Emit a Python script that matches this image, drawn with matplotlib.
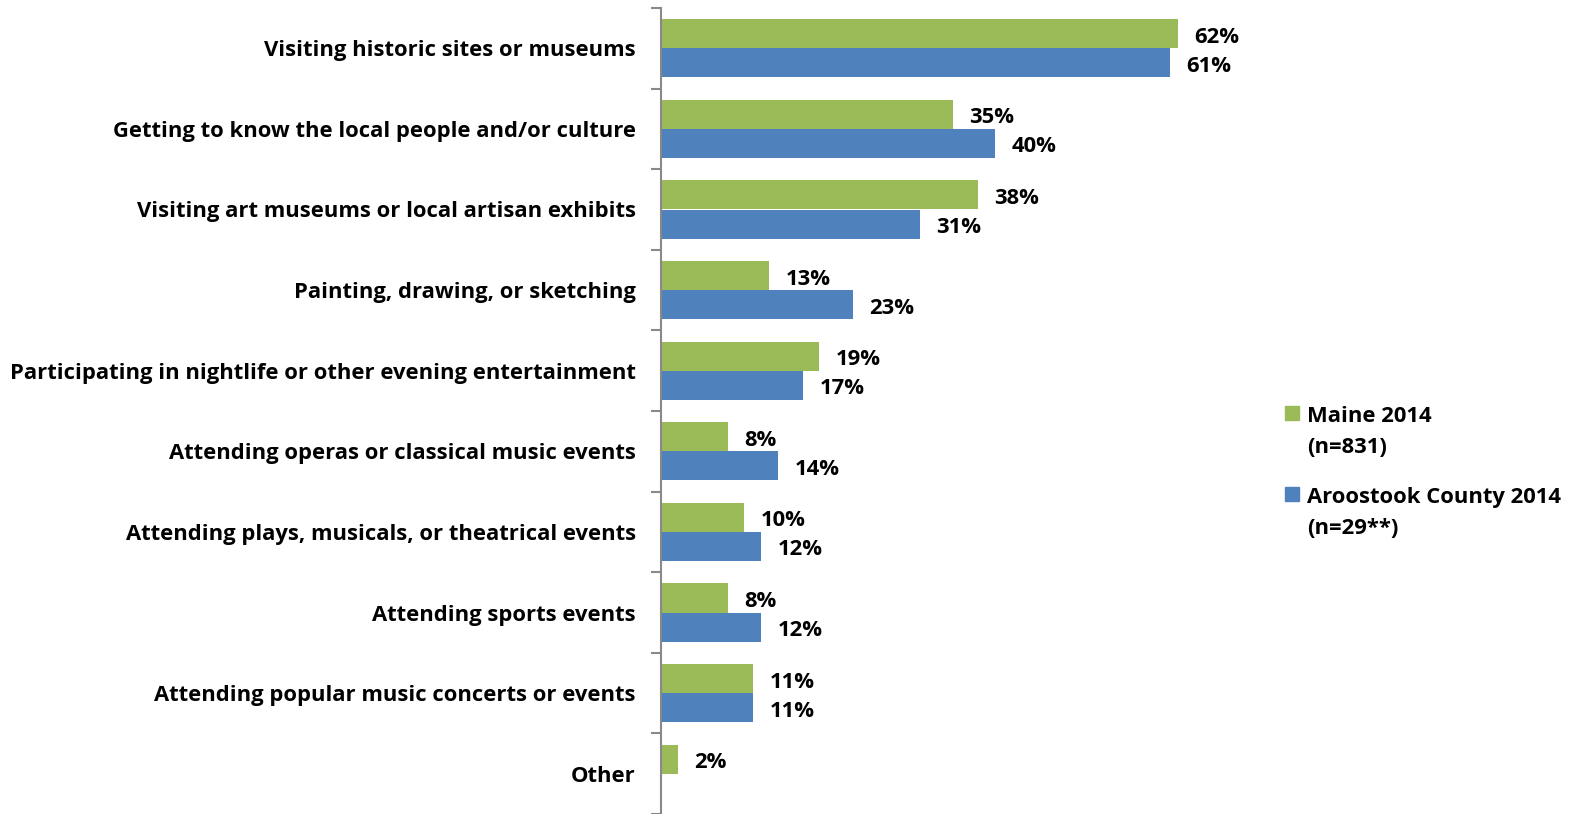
import matplotlib
matplotlib.use("Agg")
import matplotlib.pyplot as plt
from matplotlib.patches import Rectangle
import numpy as np

plt.rcParams['font.family'] = ['Open Sans', 'DejaVu Sans']
plt.rcParams['font.weight'] = 'bold'

categories = [
    "Visiting historic sites or museums",
    "Getting to know the local people and/or culture",
    "Visiting art museums or local artisan exhibits",
    "Painting, drawing, or sketching",
    "Participating in nightlife or other evening entertainment",
    "Attending operas or classical music events",
    "Attending plays, musicals, or theatrical events",
    "Attending sports events",
    "Attending popular music concerts or events",
    "Other",
]
maine = [62, 35, 38, 13, 19, 8, 10, 8, 11, 2]
aroostook = [61, 40, 31, 23, 17, 14, 12, 12, 11, None]

series_names = ["Maine 2014\n(n=831)", "Aroostook County 2014\n(n=29**)"]
GREEN = "#9BBB59"
BLUE = "#4F81BD"
AXIS_GREY = "#898989"
FS = 15.8

W, H = 1578, 814
fig = plt.figure(figsize=(W / 100, H / 100), dpi=100)

# plot area in pixels: axis line at x=661, 8.34 px per percent
x0, top = 661, 8
xmax = 70
ax = fig.add_axes([x0 / W, 0, (xmax * 8.34) / W, (H - top) / H])

y = np.arange(len(categories))
bh = 0.36

ax.barh(y - bh / 2, maine, height=bh, color=GREEN, edgecolor='none')
blue_vals = [v if v is not None else 0 for v in aroostook]
ax.barh(y + bh / 2, blue_vals, height=bh, color=BLUE, edgecolor='none')

for yi, v in zip(y, maine):
    ax.annotate(f"{v}%", (v, yi - bh / 2), xytext=(12, -2.5), textcoords='offset points',
                ha='left', va='center', fontsize=FS, fontweight='bold')
for yi, v in zip(y, aroostook):
    if v is None:
        continue
    ax.annotate(f"{v}%", (v, yi + bh / 2), xytext=(12, -2.5), textcoords='offset points',
                ha='left', va='center', fontsize=FS, fontweight='bold')

ax.set_xlim(0, xmax)
ax.set_ylim(len(categories) - 0.5, -0.5)

ax.set_yticks(y)
ax.set_yticklabels(categories, fontsize=FS, fontweight='bold')
ax.set_yticks(np.arange(len(categories) + 1) - 0.5, minor=True)
ax.tick_params(axis='y', which='major', length=0, pad=18)
ax.tick_params(axis='y', which='minor', length=7, width=1.5, color=AXIS_GREY)
ax.set_xticks([])

for s in ['top', 'right', 'bottom']:
    ax.spines[s].set_visible(False)
ax.spines['left'].set_color(AXIS_GREY)
ax.spines['left'].set_linewidth(1.5)

# legend drawn as squares + text in figure pixels
legend_rows = [(GREEN, series_names[0], 413), (BLUE, series_names[1], 494)]
for color, label, ly in legend_rows:
    sq = 14
    fig.add_artist(Rectangle((1285 / W, (H - ly - sq / 2) / H), sq / W, sq / H,
                             transform=fig.transFigure, color=color))
    fig.text(1307 / W, (H - ly + 7) / H, label, fontsize=FS, fontweight='bold',
             va='top', ha='left', linespacing=1.62)

fig.savefig("out.png", dpi=100)
